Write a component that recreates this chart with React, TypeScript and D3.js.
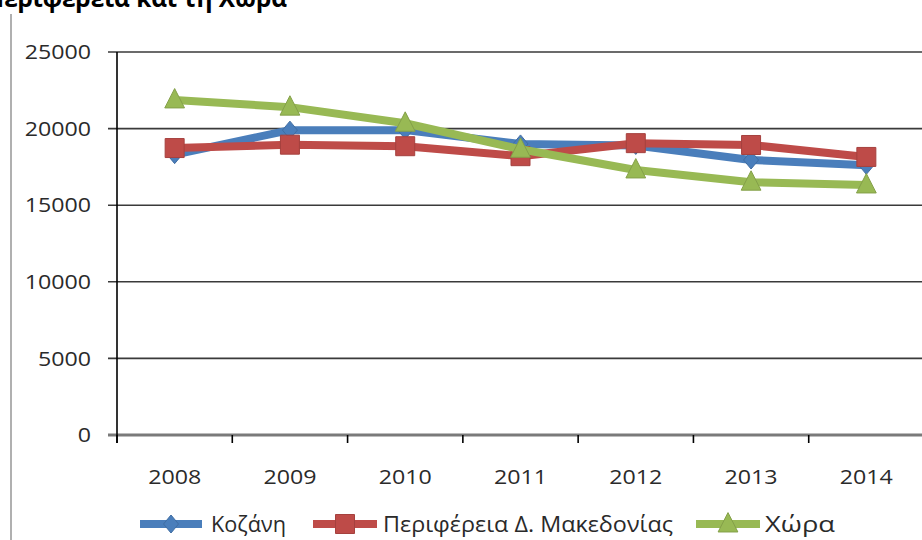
import React from 'react';
import * as d3 from 'd3';

const years = ['2008', '2009', '2010', '2011', '2012', '2013', '2014'];
const kozani = [18300, 19900, 19900, 19000, 18900, 17950, 17600];
const periferia = [18730, 18950, 18850, 18200, 19050, 18930, 18150];
const chora = [21870, 21400, 20350, 18650, 17300, 16500, 16320];
const yTicks = [0, 5000, 10000, 15000, 20000, 25000];

const series = [
  { name: 'Κοζάνη', values: kozani, color: '#4a7ebb', marker: 'diamond' },
  { name: 'Περιφέρεια Δ. Μακεδονίας', values: periferia, color: '#be4b48', marker: 'square' },
  { name: 'Χώρα', values: chora, color: '#98b954', marker: 'triangle' },
];

const W = 922;
const H = 540;
const font = '"Open Sans", Lato, sans-serif';
const textColor = '#2a2a2a';
const sx = 1.16; // the original text looks stretched sideways

// marker shapes drawn around (0,0)
const markerPath = (kind: string, s: number) => {
  if (kind === 'diamond') return `M0,${-s * 0.6} L${s * 0.5},0 L0,${s * 0.6} L${-s * 0.5},0 Z`;
  if (kind === 'square') return `M${-s / 2},${-s / 2} h${s} v${s} h${-s} Z`;
  return `M0,${-s * 0.6} L${s * 0.52},${s * 0.42} L${-s * 0.52},${s * 0.42} Z`;
};
const markerSize = (kind: string) => (kind === 'diamond' ? 15 : 19);

export default function App() {
  const x = d3.scaleBand().domain(years).range([117, 924]);
  const y = d3.scaleLinear().domain([0, 25000]).range([435, 52]);
  const cx = (i: number) => (x(years[i]) as number) + x.bandwidth() / 2;
  const line = d3
    .line<number>()
    .x((_, i) => cx(i))
    .y((d) => y(d));

  const legendY = 524;
  const legend = [
    { x0: 140, x1: 202, tx: 211, tw: 75 },
    { x0: 313, x1: 377, tx: 383, tw: 290 },
    { x0: 696, x1: 760, tx: 765, tw: 70 },
  ];

  return (
    <svg width={W} height={H} style={{ position: 'absolute', left: 0, top: 0, background: '#fff' }}>
      <text
        x={-14}
        y={7}
        fontFamily={font}
        fontWeight="bold"
        fontSize={25}
        fill="#000"
        textLength={301}
        lengthAdjust="spacingAndGlyphs"
      >
        Περιφέρεια και τη Χώρα
      </text>
      <line x1={11} x2={11} y1={14} y2={H} stroke="#b0b0b0" strokeWidth={2} />

      {/* gridlines and y ticks */}
      {yTicks.map((t) => (
        <g key={t}>
          <line x1={108} x2={W} y1={y(t)} y2={y(t)} stroke={t === 0 ? '#7a7a7a' : '#3a3a3a'} strokeWidth={t === 0 ? 3 : 1.6} />
          <text
            transform={`translate(91,${y(t)}) scale(${sx},1)`}
            dy="0.36em"
            textAnchor="end"
            fontFamily={font}
            fontSize={20}
            fill={textColor}
          >
            {t}
          </text>
        </g>
      ))}
      <line x1={117} x2={117} y1={y(25000)} y2={y(0) + 8} stroke="#000" strokeWidth={1.6} />
      {years.map((yr) => (
        <line key={'t' + yr} x1={x(yr)} x2={x(yr)} y1={y(0)} y2={y(0) + 8} stroke="#000" strokeWidth={1.6} />
      ))}
      {years.map((yr, i) => (
        <text
          key={yr}
          transform={`translate(${cx(i)},477) scale(${sx},1)`}
          dy="0.36em"
          textAnchor="middle"
          fontFamily={font}
          fontSize={20}
          fill={textColor}
        >
          {yr}
        </text>
      ))}

      {/* series */}
      {series.map((s) => (
        <g key={s.name}>
          <path d={line(s.values) || ''} fill="none" stroke={s.color} strokeWidth={8} strokeLinejoin="round" />
          {s.values.map((v, i) => (
            <path
              key={i}
              transform={`translate(${cx(i)},${y(v)})`}
              d={markerPath(s.marker, markerSize(s.marker))}
              fill={s.color}
              stroke={d3.color(s.color)?.darker(0.4).toString()}
              strokeWidth={1}
            />
          ))}
        </g>
      ))}

      {/* legend */}
      {series.map((s, i) => (
        <g key={'lg' + s.name}>
          <line x1={legend[i].x0} x2={legend[i].x1} y1={legendY} y2={legendY} stroke={s.color} strokeWidth={8} />
          <path
            transform={`translate(${(legend[i].x0 + legend[i].x1) / 2},${legendY})`}
            d={markerPath(s.marker, markerSize(s.marker))}
            fill={s.color}
            stroke={d3.color(s.color)?.darker(0.4).toString()}
            strokeWidth={1}
          />
          <text
            x={legend[i].tx}
            y={legendY}
            dy="0.36em"
            fontFamily={font}
            fontSize={21}
            fill={textColor}
            textLength={legend[i].tw}
            lengthAdjust="spacingAndGlyphs"
          >
            {s.name}
          </text>
        </g>
      ))}
    </svg>
  );
}
